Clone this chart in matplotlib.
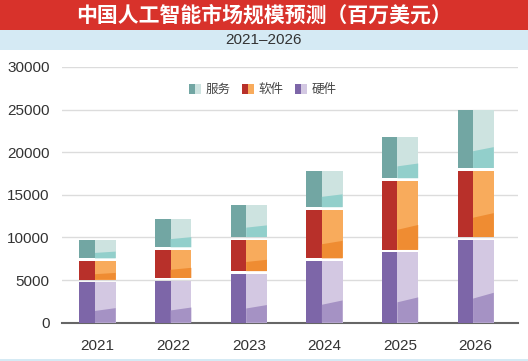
import matplotlib
matplotlib.use("Agg")
import matplotlib.pyplot as plt
from matplotlib.patches import Rectangle, Patch
from matplotlib.legend_handler import HandlerTuple

plt.rcParams['font.family'] = ['Liberation Sans', 'Noto Sans CJK SC', 'DejaVu Sans']

title = "中国人工智能市场规模预测（百万美元）"
subtitle = "2021–2026"
years = ["2021", "2022", "2023", "2024", "2025", "2026"]
series_names = ["硬件", "软件", "服务"]
hardware = [4900, 5100, 5900, 7400, 8400, 9900]
software = [2500, 3600, 4000, 6000, 8400, 8100]
services = [2500, 3600, 4100, 4500, 5100, 7100]
yticks = [0, 5000, 10000, 15000, 20000, 25000, 30000]

# (dark face, light face, lower light shade)
colors = {
    "硬件": ("#7d66a8", "#d3c8e2", "#a592c4"),
    "软件": ("#b8302a", "#f8ab5c", "#ef8c32"),
    "服务": ("#72a6a3", "#cde3e0", "#92cfcb"),
}

W, H = 528, 361
fig = plt.figure(figsize=(W / 100, H / 100), dpi=100)
fig.patch.set_facecolor("white")

# header bands
fig.add_artist(Rectangle((0, 1 - 29.5 / H), 1, 29.5 / H, transform=fig.transFigure,
                         facecolor="#d8322b", edgecolor="none"))
fig.add_artist(Rectangle((0, 1 - 50 / H), 1, 19.5 / H, transform=fig.transFigure,
                         facecolor="#d5eaf4", edgecolor="none"))
fig.add_artist(Rectangle((0, 0), 1, 2.5 / H, transform=fig.transFigure,
                         facecolor="#d5eaf4", edgecolor="none"))
fig.text(0.5, 1 - 15 / H, title, ha="center", va="center", color="white",
         fontsize=15, fontweight="bold", family=["Noto Sans CJK SC", "DejaVu Sans"])
fig.text(0.5, 1 - 40.5 / H, subtitle, ha="center", va="center", color="#333333",
         fontsize=11)

ax = fig.add_axes([62 / W, (H - 322.7) / H, (518 - 62) / W, (322.7 - 67) / H])
ax.set_xlim(-0.47, 5.56)
ax.set_ylim(0, 30000)
ax.set_yticks(yticks)
ax.set_yticklabels([str(v) for v in yticks])
ax.set_xticks(range(len(years)))
ax.set_xticklabels(years)
ax.tick_params(axis="both", length=0, labelsize=11, labelcolor="#333333")
ax.tick_params(axis="y", pad=9)
ax.tick_params(axis="x", pad=12)
for s in ["top", "right", "left"]:
    ax.spines[s].set_visible(False)
ax.spines["bottom"].set_color("#666666")
ax.spines["bottom"].set_linewidth(1.5)
ax.yaxis.grid(True, color="#dcdcdc", linewidth=1)
ax.set_axisbelow(True)

bw = 0.48
split = 0.43
gap = 300
x = list(range(len(years)))
bottoms = [0] * len(years)
for name, vals in [("硬件", hardware), ("软件", software), ("服务", services)]:
    dark, light, lower = colors[name]
    for i, v in enumerate(vals):
        b = bottoms[i] + (gap / 2 if bottoms[i] > 0 else 0)
        t = bottoms[i] + v - gap / 2
        h = t - b
        x0 = x[i] - bw / 2
        xm = x0 + bw * split
        x1 = x[i] + bw / 2
        ax.bar(x0, h, width=xm - x0, bottom=b, align="edge", color=dark, zorder=3)
        ax.bar(xm, h, width=x1 - xm, bottom=b, align="edge", color=light, zorder=3)
        ax.fill([xm, x1, x1, xm], [b, b, b + 0.36 * h, b + 0.29 * h],
                color=lower, zorder=4, linewidth=0)
        bottoms[i] += v

handles = []
labels = []
for name in ["服务", "软件", "硬件"]:
    dark, light, lower = colors[name]
    handles.append((Patch(facecolor=dark), Patch(facecolor=light)))
    labels.append(name)
ax.legend(handles, labels, handler_map={tuple: HandlerTuple(ndivide=None, pad=0)},
          loc="center", bbox_to_anchor=(0.44, 0.912), ncol=3, frameon=False,
          handlelength=1.0, handleheight=0.9, handletextpad=0.35, columnspacing=0.9,
          prop={"family": ["Noto Sans CJK SC", "DejaVu Sans"], "size": 9},
          labelcolor="#444444")

fig.savefig("out.png", dpi=100)
